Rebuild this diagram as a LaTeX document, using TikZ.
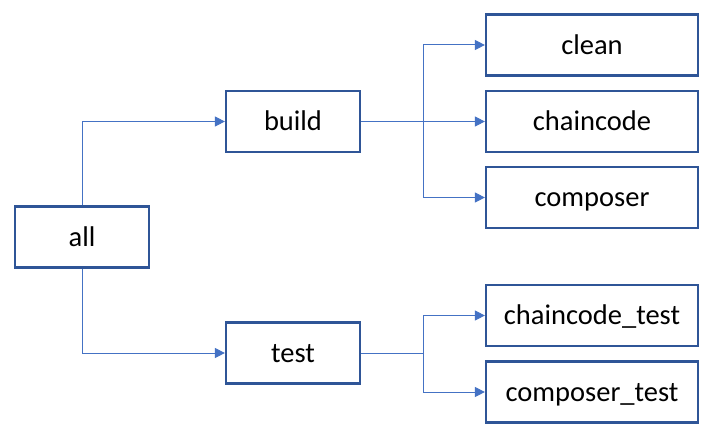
\documentclass[tikz,border=0pt]{standalone}
\usepackage{fontspec}
\setmainfont{Carlito}
\usetikzlibrary{arrows.meta}
\definecolor{boxblue}{HTML}{2F5597}
\definecolor{lineblue}{HTML}{4472C4}
\begin{document}
\begin{tikzpicture}[x=1pt,y=-1pt,
  box/.style={draw=boxblue,line width=2.2pt,fill=white,inner sep=0pt,
    minimum width=#1,minimum height=61pt,text height=20pt,text depth=2pt,
    font=\fontsize{28.5}{32}\selectfont},
  box/.default=134pt,
  conn/.style={draw=lineblue,line width=1pt,-{Triangle[length=10pt,width=10pt]}}]
\useasboundingbox (0,0) rectangle (711,436);
\node[box] (all) at (82,237) {all};
\node[box] (build) at (293,121.5) {build};
\node[box] (test) at (293,353) {test};
\node[box=212pt] (clean) at (592,45) {clean};
\node[box=212pt] (chaincode) at (592,121.5) {chaincode};
\node[box=212pt] (composer) at (592,197.5) {composer};
\node[box=212pt] (chaincodetest) at (592,315.5) {chaincode\_test};
\node[box=212pt] (composertest) at (592,392) {composer\_test};
\coordinate (bsplit) at (423,121.5);
\coordinate (tsplit) at (423,353);
\draw[conn] (all.north) |- (build.west);
\draw[conn] (all.south) |- (test.west);
\draw[draw=lineblue,line width=1pt] (build.east) -- (bsplit);
\draw[conn] (bsplit) |- (clean.west);
\draw[conn] (bsplit) -- (chaincode.west);
\draw[conn] (bsplit) |- (composer.west);
\draw[draw=lineblue,line width=1pt] (test.east) -- (tsplit);
\draw[conn] (tsplit) |- (chaincodetest.west);
\draw[conn] (tsplit) |- (composertest.west);
\end{tikzpicture}
\end{document}
